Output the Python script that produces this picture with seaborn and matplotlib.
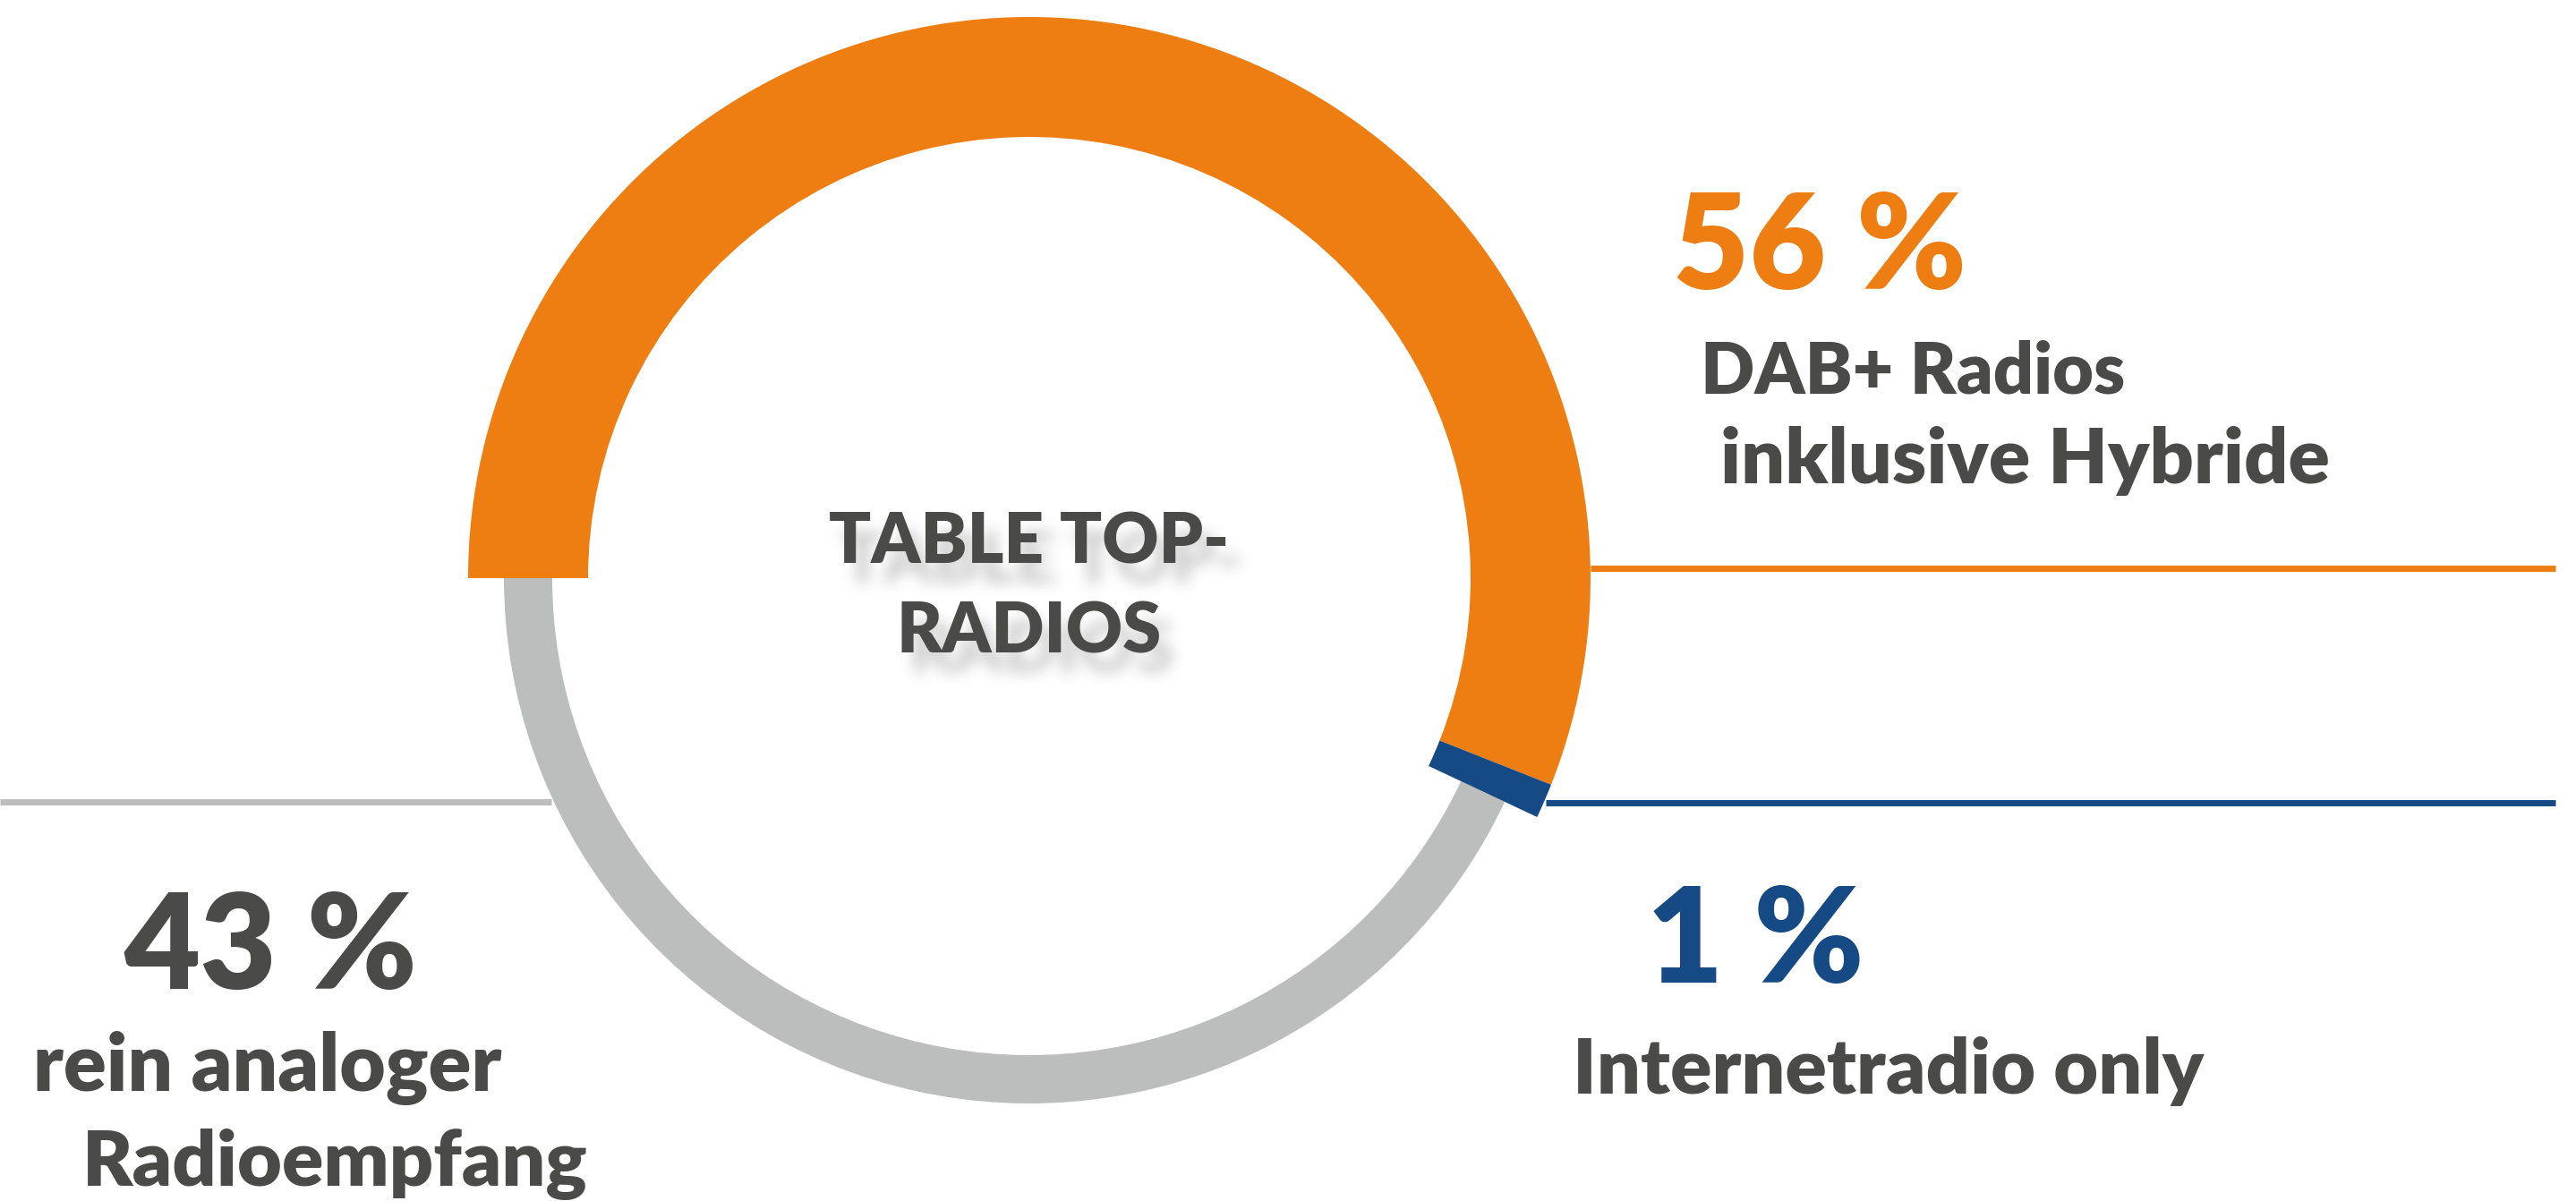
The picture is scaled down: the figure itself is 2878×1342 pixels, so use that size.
import numpy as np
import matplotlib
matplotlib.use("Agg")
import matplotlib.pyplot as plt
import seaborn as sns

# data
labels = ["DAB+ Radios\ninklusive Hybride", "Internetradio only", "rein analoger\nRadioempfang"]
shares = [56, 1, 43]
pct_text = ["56 %", "1 %", "43 %"]
center_label = ["TABLE TOP-", "RADIOS"]

ORANGE = "#ee7d12"
BLUE = "#154a85"
GREY = "#bcbebd"
LINE_GREY = "#bdbdbd"
TEXT = "#4a4a48"
WEIGHT = "heavy"

sns.set_theme(style="white")
plt.rcParams["font.family"] = ["Lato", "DejaVu Sans"]

W, H = 2878, 1342
fig = plt.figure(figsize=(W / 100, H / 100), dpi=100)
ax = fig.add_axes([0, 0, 1, 1])

cx, cy = 1150, H - 646  # pie centre in pixel units (y up)

# thin grey ring (only the analog share is visible)
ax.pie(shares, colors=["none", "none", GREY], radius=587, center=(cx, cy),
       startangle=180, counterclock=False, frame=True,
       wedgeprops=dict(width=54, linewidth=0))
# thick ring for DAB+ and internet radio
ax.pie(shares, colors=[ORANGE, BLUE, "none"], radius=627, center=(cx, cy),
       startangle=180, counterclock=False, frame=True,
       wedgeprops=dict(width=134, linewidth=0))

ax.set_xlim(0, W)
ax.set_ylim(0, H)
ax.set_aspect("auto")
ax.axis("off")

# leader lines
ax.plot([1777, 2855], [H - 635, H - 635], color=ORANGE, lw=5, solid_capstyle="butt")
ax.plot([1727, 2855], [H - 897, H - 897], color=BLUE, lw=5, solid_capstyle="butt")
ax.plot([0, 616], [H - 896, H - 896], color=LINE_GREY, lw=5, solid_capstyle="butt")


# blurred drop shadow for the centre label
def _box(a, r, axis):
    pad = [(r + 1, r) if i == axis else (0, 0) for i in range(a.ndim)]
    c = np.cumsum(np.pad(a, pad), axis=axis)
    n = a.shape[axis]
    hi = np.take(c, np.arange(2 * r + 1, 2 * r + 1 + n), axis=axis)
    lo = np.take(c, np.arange(0, n), axis=axis)
    return (hi - lo) / (2 * r + 1)


def shadow(im, dpi):
    pad = 60
    a = np.pad(im, [(pad, pad), (pad, pad), (0, 0)])
    alpha = a[..., 3]
    alpha = np.roll(alpha, 14, axis=1)
    alpha = np.roll(alpha, 22, axis=0)
    for _ in range(3):
        alpha = _box(alpha, 7, 0)
        alpha = _box(alpha, 7, 1)
    out = np.zeros_like(a)
    out[..., 0] = out[..., 1] = out[..., 2] = 0.55
    out[..., 3] = np.clip(alpha * 0.45, 0, 1)
    return out, -pad, -pad


for txt, yb in zip(center_label, [630, 730]):
    s = ax.text(cx, H - yb, txt, ha="center", va="baseline", fontsize=56,
                fontweight=WEIGHT, color="#888888")
    s.set_agg_filter(shadow)
    ax.text(cx, H - yb, txt, ha="center", va="baseline", fontsize=56,
            fontweight=WEIGHT, color=TEXT)

# percentages
ax.text(1869, H - 323, pct_text[0], fontsize=106, fontweight=WEIGHT, color=ORANGE, va="baseline")
ax.text(1840, H - 1098, pct_text[1], fontsize=106, fontweight=WEIGHT, color=BLUE, va="baseline")
ax.text(138, H - 1105, pct_text[2], fontsize=106, fontweight=WEIGHT, color=TEXT, va="baseline")

# category labels
dab1, dab2 = labels[0].split("\n")
ana1, ana2 = labels[2].split("\n")
ax.text(1900, H - 440, dab1, fontsize=57, fontweight=WEIGHT, color=TEXT, va="baseline")
ax.text(1922, H - 540, dab2, fontsize=62, fontweight=WEIGHT, color=TEXT, va="baseline")
ax.text(1757, H - 1222, labels[1], fontsize=62, fontweight=WEIGHT, color=TEXT, va="baseline")
ax.text(37, H - 1219, ana1, fontsize=64, fontweight=WEIGHT, color=TEXT, va="baseline")
ax.text(92, H - 1325, ana2, fontsize=62, fontweight=WEIGHT, color=TEXT, va="baseline")

fig.savefig("out.png", dpi=100, facecolor="white")
